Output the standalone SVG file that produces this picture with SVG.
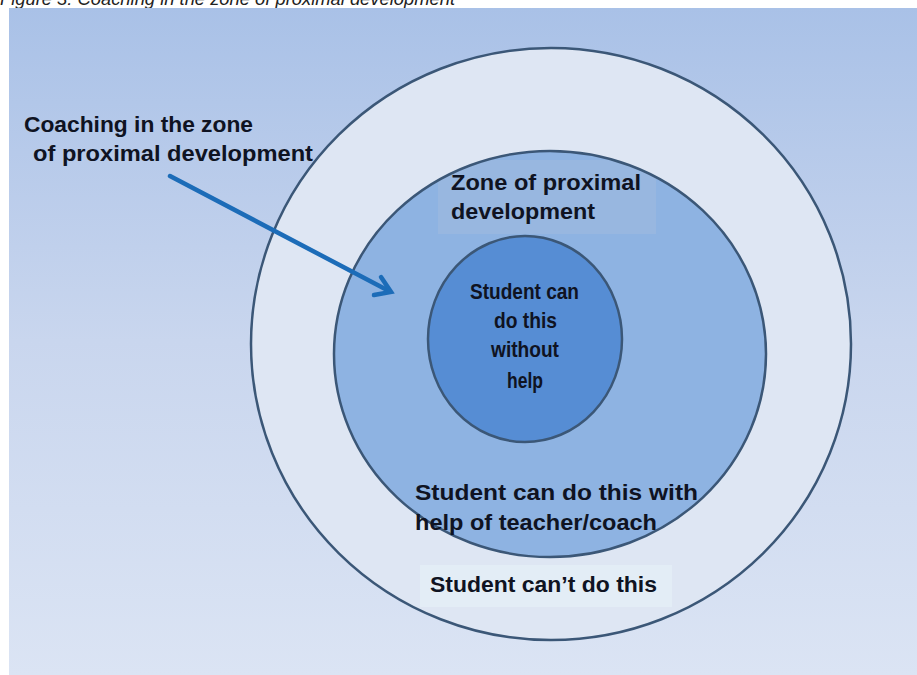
<svg xmlns="http://www.w3.org/2000/svg" width="917" height="675" viewBox="0 0 917 675">
  <defs>
    <linearGradient id="bg" x1="0" y1="0" x2="0" y2="1">
      <stop offset="0" stop-color="#a9c1e7"/>
      <stop offset="0.5" stop-color="#c9d6ee"/>
      <stop offset="1" stop-color="#dbe4f4"/>
    </linearGradient>
    <clipPath id="midClip">
      <ellipse cx="550" cy="354" rx="216" ry="203"/>
    </clipPath>
  </defs>
  <style>
    .ring { stroke: #3b5777; stroke-width: 2.5; }
    .lbl { font-family: "Liberation Sans", Arial, sans-serif; font-weight: bold; font-size: 22px; fill: #0f1322; }
    .cap { font-family: "Liberation Sans", Arial, sans-serif; font-style: italic; font-size: 19px; fill: #222; }
    .arrow { stroke: #1c6cb8; stroke-width: 4.5; fill: none; stroke-linecap: round; stroke-linejoin: miter; }
  </style>
  <rect x="0" y="0" width="917" height="675" fill="#ffffff"/>
  <text class="cap" x="0" y="5" textLength="455" lengthAdjust="spacingAndGlyphs">Figure 3: Coaching in the zone of proximal development</text>
  <rect x="9" y="8" width="908" height="667" fill="url(#bg)"/>

  <g id="outer">
    <ellipse class="ring" cx="551" cy="344" rx="300" ry="296" fill="#dee6f3"/>
    <rect x="420" y="565" width="252" height="42" fill="#e3edf6"/>
    <text class="lbl" x="430" y="592" textLength="227" lengthAdjust="spacingAndGlyphs">Student can’t do this</text>
  </g>

  <g id="middle">
    <ellipse cx="550" cy="354" rx="216" ry="203" fill="#8eb3e2"/>
    <rect x="438" y="160" width="218" height="74" fill="#98b7e0" clip-path="url(#midClip)"/>
    <ellipse class="ring" cx="550" cy="354" rx="216" ry="203" fill="none"/>
    <text class="lbl" x="451" y="190" textLength="190" lengthAdjust="spacingAndGlyphs">Zone of proximal</text>
    <text class="lbl" x="451" y="219" textLength="144" lengthAdjust="spacingAndGlyphs">development</text>
    <text class="lbl" x="415" y="500" textLength="283" lengthAdjust="spacingAndGlyphs">Student can do this with</text>
    <text class="lbl" x="415" y="530" textLength="242" lengthAdjust="spacingAndGlyphs">help of teacher/coach</text>
  </g>

  <g id="inner">
    <ellipse class="ring" cx="525" cy="339" rx="97" ry="103" fill="#568dd4"/>
    <text class="lbl" x="470" y="299" textLength="109" lengthAdjust="spacingAndGlyphs">Student can</text>
    <text class="lbl" x="494" y="328" textLength="63" lengthAdjust="spacingAndGlyphs">do this</text>
    <text class="lbl" x="491" y="357" textLength="68" lengthAdjust="spacingAndGlyphs">without</text>
    <text class="lbl" x="507" y="388" textLength="36" lengthAdjust="spacingAndGlyphs">help</text>
  </g>

  <g id="coaching-label">
    <text class="lbl" x="24" y="132" textLength="229" lengthAdjust="spacingAndGlyphs">Coaching in the zone</text>
    <text class="lbl" x="33" y="161" textLength="280" lengthAdjust="spacingAndGlyphs">of proximal development</text>
  </g>

  <g id="connectors">
    <line class="arrow" x1="170" y1="176" x2="389" y2="291"/>
    <polyline class="arrow" points="381,277 391,292 374,295"/>
  </g>
</svg>
